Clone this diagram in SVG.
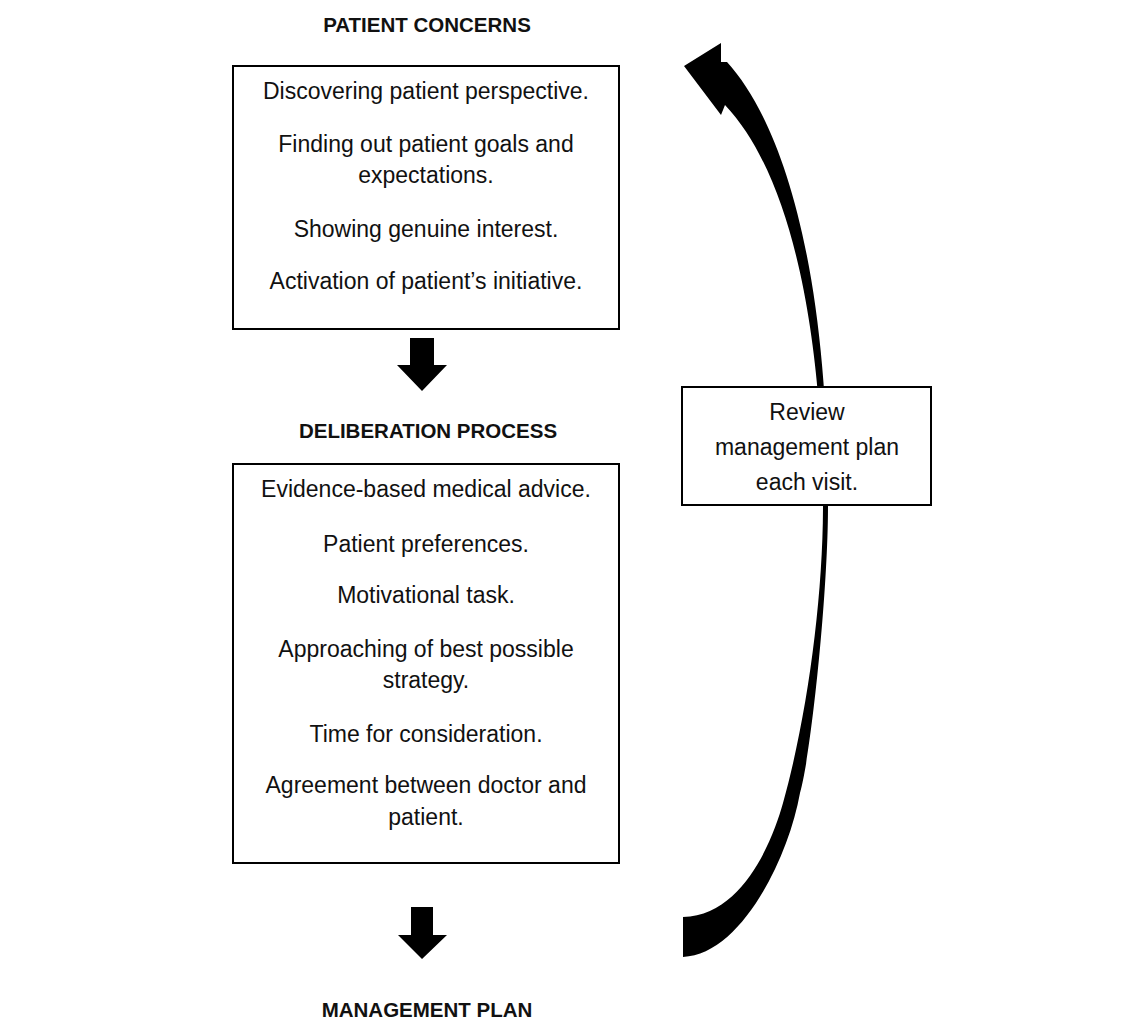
<svg xmlns="http://www.w3.org/2000/svg" width="1145" height="1021" viewBox="0 0 1145 1021">
  <style>
    .box { fill: #ffffff; stroke: #000000; stroke-width: 2; }
    .txt { font-family: "Liberation Sans", Arial, sans-serif; font-size: 23px; fill: #111111; text-anchor: middle; }
    .head { font-family: "Liberation Sans", Arial, sans-serif; font-size: 20.5px; font-weight: bold; fill: #111111; text-anchor: middle; }
    .solid { fill: #000000; stroke: none; }
  </style>
  <rect width="1145" height="1021" fill="#ffffff"/>

  <g id="connectors">
    <polygon class="solid" points="410,338 434,338 434,365 447,365 422,391 397,365 410,365"/>
    <polygon class="solid" points="411,907 433,907 433,935 447,935 422,959 398,935 411,935"/>
    <path class="solid" d="M683,917 C745,915 773.5,836.6 783,803 C807,717 823,600 823,505 C823,430 815,200 725,105 L721,115 L684,66 L721,43 L721,62 L727,62 C780,120 828,260 828,505 C828,595 811,755 800,793 C788,860 740,955 683,957 Z"/>
  </g>

  <g id="patient-concerns">
    <text class="head" x="427" y="32">PATIENT CONCERNS</text>
    <rect class="box" x="233" y="66" width="386" height="263"/>
    <text class="txt" x="426" y="99">Discovering patient perspective.</text>
    <text class="txt" x="426" y="152">Finding out patient goals and</text>
    <text class="txt" x="426" y="183">expectations.</text>
    <text class="txt" x="426" y="237">Showing genuine interest.</text>
    <text class="txt" x="426" y="289">Activation of patient’s initiative.</text>
  </g>

  <g id="deliberation-process">
    <text class="head" x="428" y="438">DELIBERATION PROCESS</text>
    <rect class="box" x="233" y="464" width="386" height="399"/>
    <text class="txt" x="426" y="497">Evidence-based medical advice.</text>
    <text class="txt" x="426" y="552">Patient preferences.</text>
    <text class="txt" x="426" y="603">Motivational task.</text>
    <text class="txt" x="426" y="657">Approaching of best possible</text>
    <text class="txt" x="426" y="688">strategy.</text>
    <text class="txt" x="426" y="742">Time for consideration.</text>
    <text class="txt" x="426" y="793">Agreement between doctor and</text>
    <text class="txt" x="426" y="825">patient.</text>
  </g>

  <g id="review">
    <rect class="box" x="682" y="387" width="249" height="118"/>
    <text class="txt" x="807" y="420">Review</text>
    <text class="txt" x="807" y="455">management plan</text>
    <text class="txt" x="807" y="490">each visit.</text>
  </g>

  <g id="management-plan">
    <text class="head" x="427" y="1017">MANAGEMENT PLAN</text>
  </g>
</svg>
